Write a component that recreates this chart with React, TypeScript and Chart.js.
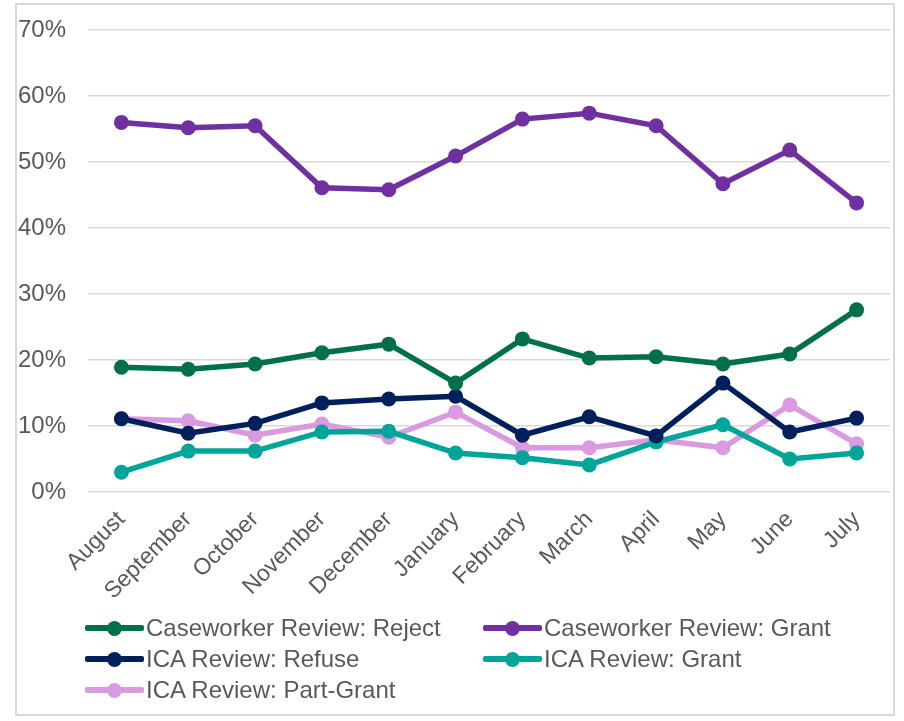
import React, { useEffect, useRef } from "react";
import { Chart, registerables } from "chart.js";

Chart.register(...registerables);

const months = ["August", "September", "October", "November", "December", "January", "February", "March", "April", "May", "June", "July"];
const caseworkerReject = [18.9, 18.6, 19.4, 21.1, 22.4, 16.5, 23.2, 20.3, 20.5, 19.4, 20.9, 27.6];
const caseworkerGrant = [56.0, 55.2, 55.5, 46.1, 45.8, 50.9, 56.5, 57.4, 55.5, 46.7, 51.8, 43.8];
const icaRefuse = [11.1, 8.9, 10.4, 13.5, 14.1, 14.5, 8.6, 11.4, 8.5, 16.5, 9.1, 11.2];
const icaGrant = [3.0, 6.2, 6.2, 9.1, 9.2, 5.9, 5.2, 4.1, 7.6, 10.2, 5.0, 5.9];
const icaPartGrant = [11.1, 10.8, 8.6, 10.3, 8.3, 12.1, 6.7, 6.7, 7.9, 6.7, 13.2, 7.3];
const yTicks = [0, 10, 20, 30, 40, 50, 60, 70];

const seriesNames = ["Caseworker Review: Reject", "Caseworker Review: Grant", "ICA Review: Refuse", "ICA Review: Grant", "ICA Review: Part-Grant"];
const seriesColors = ["#00704A", "#7030A0", "#00205B", "#00A59A", "#D99ADF"];
const seriesData = [caseworkerReject, caseworkerGrant, icaRefuse, icaGrant, icaPartGrant];

const FONT = "'Liberation Sans', Arial, sans-serif";
const TEXT = "#595959";

export default function App() {
  const ref = useRef<HTMLCanvasElement | null>(null);
  useEffect(() => {
    if (!ref.current) return;
    const chart = new Chart(ref.current, {
      type: "line",
      data: {
        labels: months,
        datasets: seriesData.map((d, i) => ({
          label: seriesNames[i],
          data: d,
          borderColor: seriesColors[i],
          backgroundColor: seriesColors[i],
          pointBackgroundColor: seriesColors[i],
          pointBorderColor: seriesColors[i],
          borderWidth: 5.5,
          pointRadius: 7.5,
          pointBorderWidth: 0,
          tension: 0,
          fill: false,
        })),
      },
      options: {
        animation: false,
        responsive: false,
        devicePixelRatio: 1,
        layout: { padding: { left: 0, right: 14, top: 30, bottom: 109 } },
        plugins: { legend: { display: false }, tooltip: { enabled: false } },
        scales: {
          x: {
            offset: true,
            grid: { display: false, drawTicks: false },
            border: { display: false },
            ticks: {
              minRotation: 45,
              maxRotation: 45,
              padding: 14,
              color: TEXT,
              font: { family: FONT, size: 23 },
            },
            afterFit: (scale: any) => {
              scale.height = 120;
            },
          },
          y: {
            min: 0,
            max: 70,
            afterBuildTicks: (scale: any) => {
              scale.ticks = yTicks.map((v) => ({ value: v }));
            },
            grid: { color: "#D9D9D9", lineWidth: 1.5, drawTicks: false },
            border: { display: false },
            ticks: {
              padding: 22,
              color: TEXT,
              font: { family: FONT, size: 24 },
              callback: (v: any) => v + "%",
            },
            afterFit: (scale: any) => {
              scale.width = 88;
              scale.paddingTop = 0;
              scale.paddingBottom = 0;
            },
          },
        },
      },
    });
    return () => chart.destroy();
  }, []);

  const legendPos = [
    { x: 85, y: 628 },
    { x: 483, y: 628 },
    { x: 85, y: 659 },
    { x: 483, y: 659 },
    { x: 85, y: 690 },
  ];

  return (
    <div style={{ position: "absolute", left: 0, top: 0, width: 904, height: 721, background: "#fff", overflow: "hidden" }}>
      <div style={{ position: "absolute", left: 15, top: 3, width: 880, height: 713, border: "2px solid #D9D9D9", boxSizing: "border-box" }} />
      <canvas ref={ref} width={904} height={721} style={{ position: "absolute", left: 0, top: 0, width: 904, height: 721 }} />
      {seriesNames.map((name, i) => (
        <div
          key={name}
          style={{
            position: "absolute",
            left: legendPos[i].x,
            top: legendPos[i].y - 15,
            height: 30,
            display: "flex",
            alignItems: "center",
            fontFamily: FONT,
            fontSize: 24,
            color: TEXT,
            whiteSpace: "nowrap",
          }}
        >
          <div style={{ position: "relative", width: 59, height: 30, marginRight: 2 }}>
            <div style={{ position: "absolute", left: 0, top: 12, width: 59, height: 6, background: seriesColors[i], borderRadius: 2 }} />
            <div style={{ position: "absolute", left: 22, top: 7.5, width: 15, height: 15, borderRadius: 8, background: seriesColors[i] }} />
          </div>
          <span>{name}</span>
        </div>
      ))}
    </div>
  );
}
